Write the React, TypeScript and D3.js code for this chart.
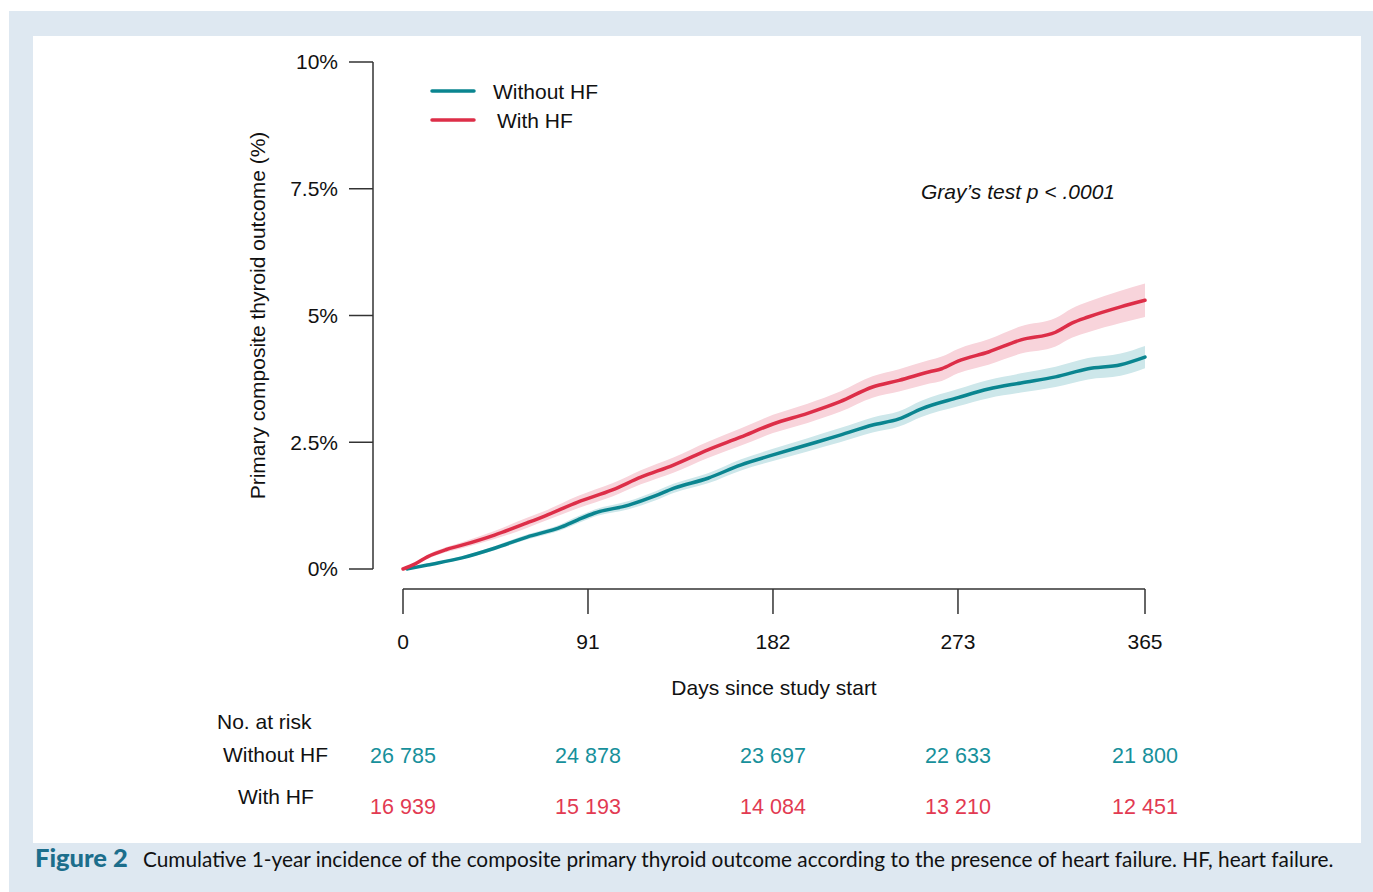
import React from "react";
import * as d3 from "d3";

// ---- Data ----
const withHFDays = [0, 6, 12, 21, 29, 45, 61, 70, 86, 103, 117, 133, 150, 166, 182, 199, 215, 231, 244, 259, 265, 273, 288, 304, 321, 329, 337, 353, 365];
const withHFValues = [0, 0.1, 0.24, 0.38, 0.47, 0.67, 0.91, 1.05, 1.32, 1.56, 1.81, 2.05, 2.35, 2.6, 2.86, 3.07, 3.3, 3.59, 3.72, 3.89, 3.95, 4.1, 4.28, 4.52, 4.67, 4.85, 4.97, 5.17, 5.3];
const withHFHalfCI = [0, 0.02, 0.04, 0.05, 0.06, 0.08, 0.1, 0.1, 0.12, 0.13, 0.14, 0.15, 0.16, 0.17, 0.18, 0.19, 0.2, 0.21, 0.22, 0.23, 0.24, 0.24, 0.25, 0.27, 0.28, 0.29, 0.3, 0.32, 0.33];

const withoutHFDays = [2, 12, 29, 45, 61, 78, 86, 94, 111, 124, 133, 150, 166, 182, 199, 215, 231, 244, 255, 273, 288, 304, 321, 337, 353, 365];
const withoutHFValues = [0, 0.08, 0.22, 0.41, 0.63, 0.83, 0.97, 1.1, 1.26, 1.44, 1.59, 1.79, 2.05, 2.25, 2.45, 2.64, 2.84, 2.96, 3.16, 3.38, 3.55, 3.67, 3.79, 3.95, 4.03, 4.18];
const withoutHFHalfCI = [0, 0.02, 0.03, 0.04, 0.05, 0.06, 0.07, 0.07, 0.08, 0.09, 0.09, 0.1, 0.11, 0.12, 0.13, 0.14, 0.15, 0.15, 0.16, 0.17, 0.18, 0.19, 0.2, 0.21, 0.22, 0.22];

const xTicks = [0, 91, 182, 273, 365];
const yTicks = [0, 2.5, 5, 7.5, 10];
const yTickLabels = ["0%", "2.5%", "5%", "7.5%", "10%"];

const riskWithoutHF = ["26 785", "24 878", "23 697", "22 633", "21 800"];
const riskWithHF = ["16 939", "15 193", "14 084", "13 210", "12 451"];

const seriesNames = ["Without HF", "With HF"];

const TEAL = "#0a8590";
const RED = "#dd2e48";
const TEAL_BAND = "#cde7ea";
const RED_BAND = "#f8d4db";
const FONT = "'Liberation Sans', Arial, Helvetica, sans-serif";
const FS = 21;

export default function App() {
  const x = d3.scaleLinear().domain([0, 365]).range([403, 1145]);
  const y = d3.scaleLinear().domain([0, 10]).range([569, 62]);

  const makeLine = (days: number[], vals: number[]) =>
    d3.line<number>().x((_, i) => x(days[i])).y((v) => y(v)).curve(d3.curveMonotoneX)(vals) || "";
  const makeBand = (days: number[], vals: number[], hw: number[]) =>
    d3
      .area<number>()
      .x((_, i) => x(days[i]))
      .y0((v, i) => y(Math.max(0, v - hw[i])))
      .y1((v, i) => y(v + hw[i]))
      .curve(d3.curveMonotoneX)(vals) || "";

  const axisColor = "#333";

  return (
    <svg
      width={1373}
      height={892}
      style={{ position: "absolute", left: 0, top: 0 }}
      fontFamily={FONT}
    >
      <rect x={0} y={0} width={1373} height={892} fill="#ffffff" />
      <rect x={9} y={11} width={1364} height={881} fill="#dee8f1" />
      <rect x={33} y={36} width={1328} height={807} fill="#ffffff" />

      {/* Bands */}
      <path d={makeBand(withoutHFDays, withoutHFValues, withoutHFHalfCI)} fill={TEAL_BAND} />
      <path d={makeBand(withHFDays, withHFValues, withHFHalfCI)} fill={RED_BAND} />
      {/* Lines */}
      <path d={makeLine(withoutHFDays, withoutHFValues)} fill="none" stroke={TEAL} strokeWidth={3.5} strokeLinejoin="round" strokeLinecap="round" />
      <path d={makeLine(withHFDays, withHFValues)} fill="none" stroke={RED} strokeWidth={3.5} strokeLinejoin="round" strokeLinecap="round" />

      {/* Y axis */}
      <line x1={373} x2={373} y1={y(10)} y2={y(0)} stroke={axisColor} strokeWidth={1.5} />
      {yTicks.map((t, i) => (
        <g key={t}>
          <line x1={349} x2={373} y1={y(t)} y2={y(t)} stroke={axisColor} strokeWidth={1.5} />
          <text x={338} y={y(t)} dy="0.35em" textAnchor="end" fontSize={FS} fill="#111">
            {yTickLabels[i]}
          </text>
        </g>
      ))}
      <text
        transform={`translate(265,${(y(10) + y(0)) / 2}) rotate(-90)`}
        textAnchor="middle"
        fontSize={FS}
        fill="#111"
      >
        Primary composite thyroid outcome (%)
      </text>

      {/* X axis */}
      <line x1={x(0)} x2={x(365)} y1={589} y2={589} stroke={axisColor} strokeWidth={1.5} />
      {xTicks.map((t) => (
        <g key={t}>
          <line x1={x(t)} x2={x(t)} y1={589} y2={614} stroke={axisColor} strokeWidth={1.5} />
          <text x={x(t)} y={642} dy="0.35em" textAnchor="middle" fontSize={FS} fill="#111">
            {t}
          </text>
        </g>
      ))}
      <text x={774} y={688} dy="0.35em" textAnchor="middle" fontSize={FS} fill="#111">
        Days since study start
      </text>

      {/* Legend */}
      <line x1={432} x2={474} y1={91} y2={91} stroke={TEAL} strokeWidth={3.5} strokeLinecap="round" />
      <text x={493} y={92} dy="0.35em" fontSize={FS} fill="#111">
        {seriesNames[0]}
      </text>
      <line x1={432} x2={474} y1={120} y2={120} stroke={RED} strokeWidth={3.5} strokeLinecap="round" />
      <text x={497} y={121} dy="0.35em" fontSize={FS} fill="#111">
        {seriesNames[1]}
      </text>

      {/* Gray's test */}
      <text x={1115} y={192} dy="0.35em" textAnchor="end" fontSize={FS} fontStyle="italic" fill="#111">
        Gray’s test p {"<"} .0001
      </text>

      {/* Risk table */}
      <text x={217} y={722} dy="0.35em" fontSize={FS} fill="#111">
        No. at risk
      </text>
      <text x={223} y={755} dy="0.35em" fontSize={FS} fill="#111">
        {seriesNames[0]}
      </text>
      <text x={238} y={797} dy="0.35em" fontSize={FS} fill="#111">
        {seriesNames[1]}
      </text>
      {xTicks.map((t, i) => (
        <g key={"r" + t}>
          <text x={x(t)} y={755} dy="0.35em" textAnchor="middle" fontSize={21.5} fill="#17909b">
            {riskWithoutHF[i]}
          </text>
          <text x={x(t)} y={806} dy="0.35em" textAnchor="middle" fontSize={21.5} fill="#e23a52">
            {riskWithHF[i]}
          </text>
        </g>
      ))}

      {/* Caption */}
      <text x={35} y={867} fontSize={20.8} fontFamily="Lato, 'Open Sans', sans-serif" fill="#111">
        <tspan fontWeight="900" fontSize={25.5} fill="#1c6e8c">Figure 2</tspan>
        <tspan x={143}>
          Cumulative 1-year incidence of the composite primary thyroid outcome according to the presence of heart failure. HF, heart failure.
        </tspan>
      </text>
    </svg>
  );
}
